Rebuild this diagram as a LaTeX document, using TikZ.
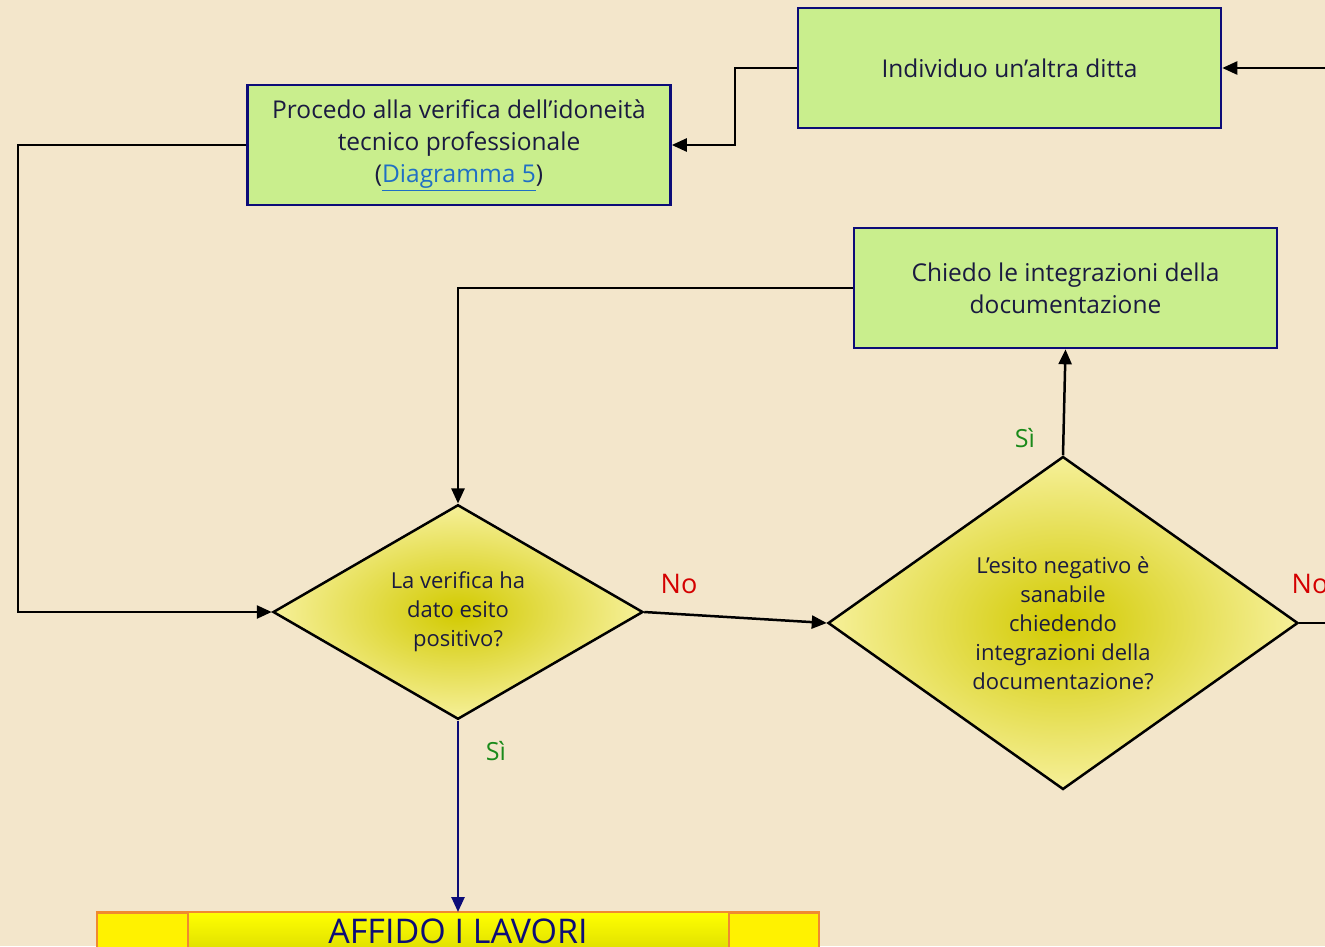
\documentclass[tikz,border=0pt]{standalone}
\usepackage{fontspec}
\setmainfont{Open Sans}
\usetikzlibrary{shapes.geometric,arrows.meta}
\definecolor{bg}{HTML}{F3E6CB}
\definecolor{navy}{HTML}{0C0C78}
\definecolor{boxgreen}{HTML}{C9EE8D}
\definecolor{textc}{HTML}{1A1A40}
\definecolor{dcenter}{HTML}{D2CA00}
\definecolor{dedge}{HTML}{F6F09A}
\definecolor{yesg}{HTML}{1A8A1A}
\definecolor{nored}{HTML}{D40000}
\definecolor{linkblue}{HTML}{1F6FC5}
\definecolor{ybord}{HTML}{F08A30}
\definecolor{ymid}{HTML}{E2E200}
\begin{document}
\begin{tikzpicture}[x=1pt,y=-1pt,
  box/.style={draw=navy, line width=2.6pt, fill=boxgreen, minimum width=423pt, minimum height=120pt,
    align=center, text=textc, font=\fontsize{24.5}{32}\selectfont, inner sep=0pt},
  decision/.style={diamond, draw=black, line width=2.5pt, inner sep=0pt, shade, inner color=dcenter,
    outer color=dedge, align=center, text=textc, font=\fontsize{22}{29}\selectfont},
  conn/.style={line width=2.5pt, draw=black, -{Triangle[length=15pt,width=13pt]}},
  yes/.style={text=yesg, font=\fontsize{25}{28}\selectfont},
  no/.style={text=nored, font=\fontsize{27}{30}\selectfont},
  ybox/.style={draw=ybord, line width=2.2pt, fill=yellow, minimum width=722pt, minimum height=70pt, inner sep=0pt}
]
\useasboundingbox (0,0) rectangle (1325,946);
\clip (0,0) rectangle (1325,946);
\fill[bg] (0,0) rectangle (1325,946);

% boxes
\node[box] (altra) at (1009.5,68) {Individuo un’altra ditta};
\node[box] (verifica) at (459,145) {Procedo alla verifica dell’idoneità\\tecnico professionale\\({\color{linkblue}\underline{Diagramma 5}})};
\node[box] (integr) at (1065.5,288) {Chiedo le integrazioni della\\documentazione};

% decisions
\node[decision, minimum width=370pt, minimum height=208pt] (d1) at (458,612) {La verifica ha\\dato esito\\positivo?};
\node[decision, minimum width=470pt, minimum height=333pt] (d2) at (1063,623) {L’esito negativo è\\sanabile\\chiedendo\\integrazioni della\\documentazione?};

% bottom box
\node[ybox, anchor=north] (affido) at (458,912) {};
\shade[top color=yellow, bottom color=yellow, middle color=ymid] (188,913) rectangle (729,980);
\draw[ybord, line width=1.8pt] (188,912) -- (188,980) (729,912) -- (729,980);
\draw[ybord, line width=2.2pt] (affido.north west) -- (affido.north east);
\node[text=navy, font=\fontsize{34}{36}\selectfont, anchor=base] (affidotxt) at (458,943) {AFFIDO I LAVORI};

% free ends
\coordinate (inR) at (1327,68);
\coordinate (outR) at (1327,623);

% connectors
\draw[conn] (inR) -- (altra.east);
\draw[conn] (altra.west) -- (735,68) -- (735,145) -- (verifica.east);
\draw[conn] (verifica.west) -- (18,145) -- (18,612) -- (d1.west);
\draw[conn] (integr.west) -- (458,288) -- (d1.north);
\draw[conn] (d1.east) -- (d2.west);
\draw[conn] (d2.north) -- (integr.south);
\draw[line width=2.5pt] (d2.east) -- (outR);
\draw[conn, draw=navy, navy] (d1.south) -- (affido.north);

% labels
\node[no] (no1) at (679,584) {No};
\node[yes] (si1) at (1025,438) {Sì};
\node[no] (no2) at (1310,584) {No};
\node[yes] (si2) at (496,751) {Sì};
\end{tikzpicture}
\end{document}
